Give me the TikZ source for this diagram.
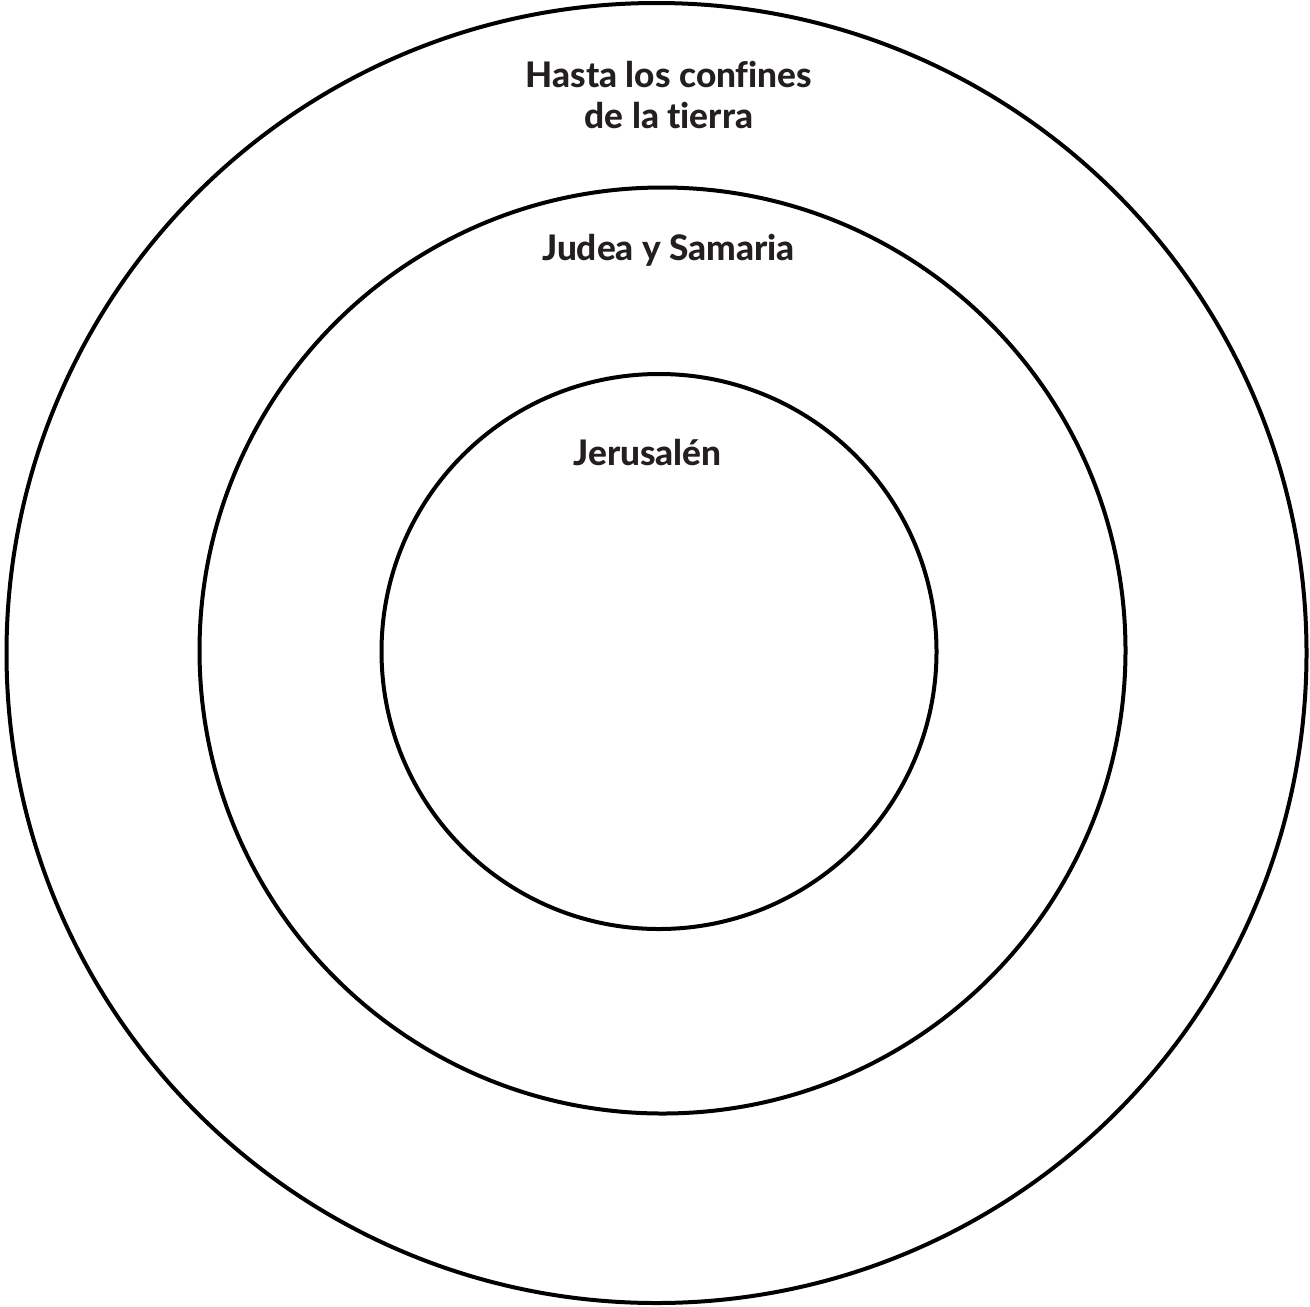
\documentclass[tikz,border=0pt]{standalone}
\usepackage{fontspec}
\setmainfont{Lato}[Ligatures=NoCommon,BoldFont={Lato Heavy}]
\usetikzlibrary{positioning}
\definecolor{ink}{HTML}{231F20}
\tikzset{
  ring/.style={circle,draw=black,line width=2pt,inner sep=0pt,fill=none},
  label/.style={font=\fontsize{17.6}{20.5}\selectfont\bfseries,text=ink,align=center,inner sep=0pt,anchor=base}
}
\begin{document}
\begin{tikzpicture}[x=0.5pt,y=0.5pt]
\useasboundingbox (0,0) rectangle (1310,-1306);
\node[ring,minimum size=650pt] (earth) at (656.5,-653) {};
\node[ring,minimum size=463pt] (judea) at (662.5,-650.5) {};
\node[ring,minimum size=277.5pt] (jerusalem) at (659,-651.5) {};

\node[label] (earthlbl) at (669,-128) {Hasta los confines\\de la tierra};
\node[label] (judealbl) at (668.5,-260) {Judea y Samaria};
\node[label] (jerusalemlbl) at (647.5,-465) {Jerusalén};
\end{tikzpicture}
\end{document}
